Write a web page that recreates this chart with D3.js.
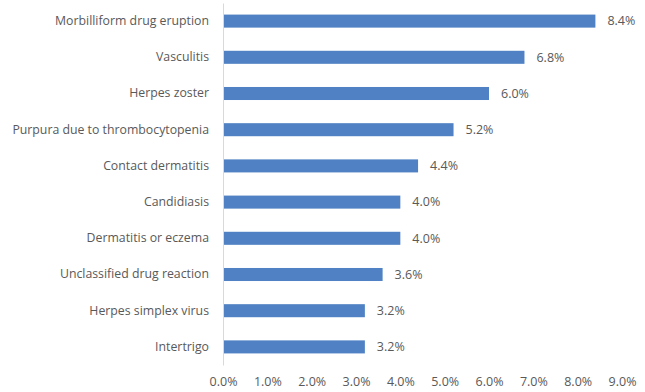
<!DOCTYPE html>
<html>
<head>
<meta charset="utf-8">
<script src="https://cdn.jsdelivr.net/npm/d3@7"></script>
<style>
  body { margin: 0; background: #fff; }
  text { font-family: "Open Sans", sans-serif; fill: #595959; }
</style>
</head>
<body>
<svg width="645" height="392"></svg>
<script>
// data
const categories = ["Morbilliform drug eruption", "Vasculitis", "Herpes zoster",
  "Purpura due to thrombocytopenia", "Contact dermatitis", "Candidiasis",
  "Dermatitis or eczema", "Unclassified drug reaction", "Herpes simplex virus", "Intertrigo"];
const values = [8.4, 6.8, 6.0, 5.2, 4.4, 4.0, 4.0, 3.6, 3.2, 3.2];
const ticks = [0, 1, 2, 3, 4, 5, 6, 7, 8, 9];

const svg = d3.select("svg");
const x0 = 223, x1 = 622, y0 = 3, y1 = 365;

const x = d3.scaleLinear().domain([0, 9]).range([x0, x1]);
const y = d3.scaleBand().domain(categories).range([y0, y1]).paddingInner(0.64).paddingOuter(0.32);

const data = categories.map((c, i) => ({ name: c, v: values[i] }));

// bars
svg.append("g")
  .selectAll("rect")
  .data(data)
  .join("rect")
    .attr("x", x(0))
    .attr("y", d => y(d.name))
    .attr("width", d => x(d.v) - x(0))
    .attr("height", y.bandwidth())
    .attr("fill", "#4f81c4");

// value labels
svg.append("g")
  .selectAll("text")
  .data(data)
  .join("text")
    .attr("x", d => x(d.v) + 12)
    .attr("y", d => y(d.name) + y.bandwidth() / 2)
    .attr("dy", "0.35em")
    .style("font-size", "12.5px")
    .text(d => d.v.toFixed(1) + "%");

// category axis (left)
const yAxis = svg.append("g")
  .attr("transform", "translate(" + x0 + ",0)")
  .call(d3.axisLeft(y).tickSize(0).tickPadding(14));
yAxis.select(".domain").attr("stroke", "#d9d9d9");
yAxis.selectAll("text").style("font-size", "12.3px").style("fill", "#595959");

// value axis (bottom), labels only
const xAxis = svg.append("g")
  .attr("transform", "translate(0," + y1 + ")")
  .call(d3.axisBottom(x).tickValues(ticks).tickSize(0).tickPadding(12)
    .tickFormat(d => d.toFixed(1) + "%"));
xAxis.select(".domain").remove();
xAxis.selectAll("text").style("font-size", "12.5px").style("fill", "#595959");
</script>
</body>
</html>
